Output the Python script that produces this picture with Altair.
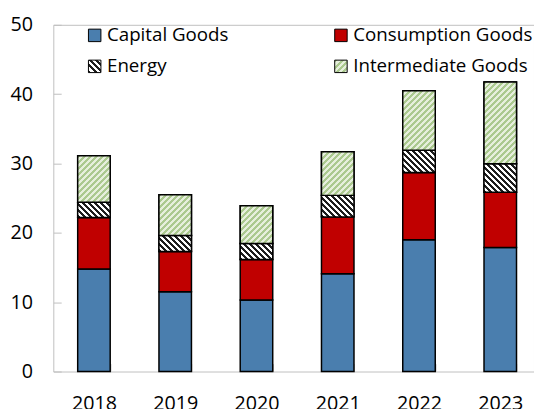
import math
import altair as alt
import pandas as pd

# ---- data ----
years = ["2018", "2019", "2020", "2021", "2022", "2023"]
series = ["Capital Goods", "Consumption Goods", "Energy", "Intermediate Goods"]
capital = [14.8, 11.5, 10.3, 14.1, 19.0, 17.9]
consumption = [7.4, 5.8, 5.85, 8.2, 9.7, 7.95]
energy = [2.2, 2.3, 2.3, 3.1, 3.2, 4.1]
intermediate = [6.7, 5.9, 5.45, 6.3, 8.6, 11.8]
y_ticks = [0, 10, 20, 30, 40, 50]

rows = []
for si, (name, vals) in enumerate(zip(series, [capital, consumption, energy, intermediate])):
    for yr, v in zip(years, vals):
        rows.append({"year": yr, "series": name, "value": v, "order": si})
df = pd.DataFrame(rows)

# ---- hatch helpers (striped linear gradients) ----
BLUE = "#4a7eae"
RED = "#c00000"
EN_DARK, EN_LIGHT = "#1e1e1e", "#ffffff"
IN_DARK, IN_LIGHT = "#abc98f", "#e6efdc"


def stops(c1, c2, n):
    parts = []
    for i in range(n):
        a, m, b = i / n, (i + 0.5) / n, (i + 1) / n
        parts += [(a, c1), (m, c1), (m, c2), (b, c2)]
    return "[" + ",".join("{offset:%.5f,color:'%s'}" % (o, c) for o, c in parts) + "]"


N = 24      # stripe periods in gradient
P = 4.3     # perpendicular stripe period in px
W = "bandwidth('x')"
H = "abs(scale('y',datum.y1)-scale('y',datum.y0))"
K = "(%.4f/(%s*%s+%s*%s))" % (N * P * math.sqrt(2), W, W, H, H)

grad_inter = "{gradient:'linear',x1:0,y1:0,x2:%s*%s,y2:%s*%s,stops:%s}" % (
    K, W, K, H, stops(IN_DARK, IN_LIGHT, N))
grad_energy = "{gradient:'linear',x1:0,y1:1,x2:%s*%s,y2:1-%s*%s,stops:%s}" % (
    K, W, K, H, stops(EN_DARK, EN_LIGHT, N))
fill_expr = "datum.series==='Energy' ? %s : %s" % (grad_energy, grad_inter)

legend_energy = "{gradient:'linear',x1:0,y1:1,x2:1,y2:0,stops:%s}" % stops(EN_DARK, EN_LIGHT, 4)
legend_inter = "{gradient:'linear',x1:0,y1:0,x2:1,y2:1,stops:%s}" % stops(IN_DARK, IN_LIGHT, 4)

FONT = "Open Sans"

base = alt.Chart(df).transform_stack(
    stack="value",
    groupby=["year"],
    as_=["y0", "y1"],
    sort=[alt.SortField("order", order="ascending")],
)

x_enc = alt.X(
    "year:N",
    title=None,
    scale=alt.Scale(range=[0, 495], paddingInner=0.6, paddingOuter=0.3),
    axis=alt.Axis(
        offset=-8, tickSize=8, tickBand="extent", domain=False, grid=False,
        labelAngle=0, labelPadding=23, labelFont=FONT, labelFontSize=20,
        labelColor="black", tickColor="#bfbfbf", tickWidth=1,
    ),
)
y_enc = alt.Y(
    "y0:Q",
    title=None,
    scale=alt.Scale(domain=[0, 50], nice=False),
    axis=alt.Axis(
        values=y_ticks, offset=-8, tickSize=8, domain=False, grid=False,
        labelPadding=21, labelFont=FONT, labelFontSize=20, labelColor="black",
        tickColor="#bfbfbf", tickWidth=1,
    ),
)

bars = base.mark_bar(stroke="black", strokeWidth=1.5).encode(
    x=x_enc,
    y=y_enc,
    y2="y1:Q",
    fill=alt.Fill(
        "series:N",
        sort=series,
        scale=alt.Scale(
            domain=series,
            range=[BLUE, RED, {"expr": legend_energy}, {"expr": legend_inter}],
        ),
        legend=alt.Legend(
            title=None, orient="none", legendX=32.5, legendY=1, columns=2,
            direction="horizontal",
            columnPadding=104, rowPadding=11.7, symbolType="square",
            symbolSize=160, symbolStrokeColor="black", symbolStrokeWidth=1,
            labelFont=FONT, labelFontSize=19, labelColor="black",
            labelOffset=3, labelLimit=400, padding=0,
        ),
    ),
)

hatch = base.transform_filter("datum.order >= 2").mark_bar(
    stroke="black", strokeWidth=1.5, fill=alt.ExprRef(fill_expr)
).encode(
    x=alt.X("year:N"),
    y=alt.Y("y0:Q"),
    y2="y1:Q",
)

chart = (
    alt.layer(bars, hatch)
    .properties(
        width=488,
        height=352,
        autosize=alt.AutoSizeParams(type="none"),
        padding={"left": 46, "top": 14, "right": 0, "bottom": 35},
    )
    .configure_view(stroke="#bfbfbf", strokeWidth=1)
)

chart.save("out.html", embed_options={"renderer": "svg", "actions": False})
